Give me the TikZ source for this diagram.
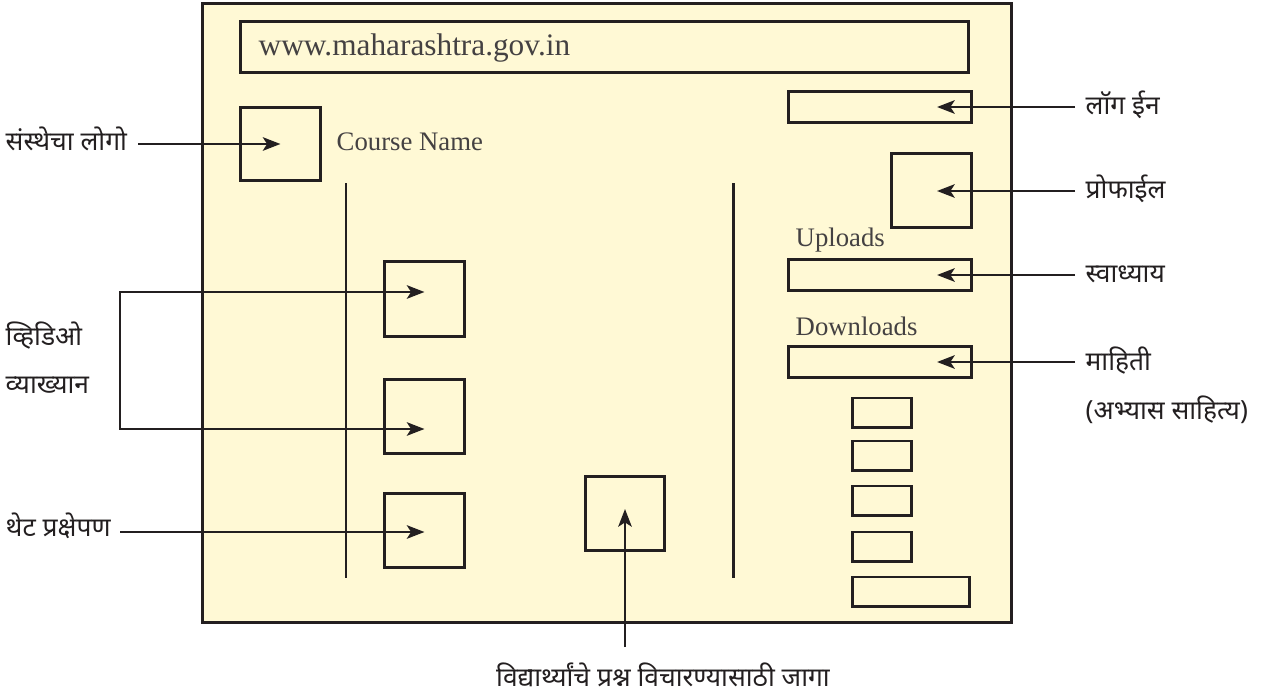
\documentclass[tikz,border=0pt]{standalone}
\usepackage{fontspec}
\setmainfont{Liberation Serif}
\newfontfamily\dev[Script=Devanagari]{Noto Sans}
\usetikzlibrary{arrows.meta}
\definecolor{scr}{RGB}{255,249,213}
\definecolor{ink}{RGB}{35,31,32}
\begin{document}
\begin{tikzpicture}[x=0.01cm,y=-0.01cm,
  bx/.style={draw=ink, line width=0.85pt, inner sep=0pt, outer sep=0pt, fill=scr},
  arr/.style={draw=ink, line width=0.85pt, -{Stealth[length=5pt,width=3.8pt,inset=1.2pt]}},
  ln/.style={draw=ink, line width=0.85pt},
  dlbl/.style={font=\dev\fontsize{7.5}{9}\selectfont, text=ink, inner sep=0pt, anchor=base west},
  elbl/.style={font=\fontsize{7.6}{9}\selectfont, text=ink!85, inner sep=0pt, anchor=base west}]
\useasboundingbox (0,0) rectangle (1263,694);
% screen frame
\node[bx, minimum width=8.08cm, minimum height=6.18cm] (screen) at (607,313) {};
% url bar
\node[bx, minimum width=7.27cm, minimum height=0.50cm] (url) at (604.5,47) {};
\node[elbl, font=\fontsize{8.9}{11}\selectfont] (urltxt) at (258,55) {www.maharashtra.gov.in};
% logo and course name
\node[bx, minimum width=0.79cm, minimum height=0.73cm] (logo) at (280.5,144) {};
\node[elbl] (course) at (336,150) {Course Name};
% vertical dividers
\coordinate (d1a) at (346,183); \coordinate (d1b) at (346,578);
\coordinate (d2a) at (733,183); \coordinate (d2b) at (733,578);
\draw[ln] (d1a) -- (d1b);
\draw[ln] (d2a) -- (d2b);
% video boxes
\node[bx, minimum width=0.79cm, minimum height=0.74cm] (vid1) at (424.5,299) {};
\node[bx, minimum width=0.79cm, minimum height=0.74cm] (vid2) at (424.5,416.5) {};
\node[bx, minimum width=0.79cm, minimum height=0.74cm] (vid3) at (424.5,530.5) {};
% question box
\node[bx, minimum width=0.79cm, minimum height=0.73cm] (ques) at (625,513.5) {};
% right column
\node[bx, minimum width=1.82cm, minimum height=0.30cm] (login) at (880,107) {};
\node[bx, minimum width=0.79cm, minimum height=0.73cm] (prof) at (931.5,190.5) {};
\node[elbl] (upl) at (795,246) {Uploads};
\node[bx, minimum width=1.82cm, minimum height=0.30cm] (swad) at (880,275) {};
\node[elbl] (dnl) at (795,335) {Downloads};
\node[bx, minimum width=1.82cm, minimum height=0.30cm] (mahiti) at (880,362) {};
\node[bx, minimum width=0.58cm, minimum height=0.29cm] (s1) at (882,412.5) {};
\node[bx, minimum width=0.58cm, minimum height=0.29cm] (s2) at (882,455.5) {};
\node[bx, minimum width=0.58cm, minimum height=0.29cm] (s3) at (882,500.5) {};
\node[bx, minimum width=0.58cm, minimum height=0.29cm] (s4) at (882,546.5) {};
\node[bx, minimum width=1.16cm, minimum height=0.29cm] (s5) at (911,591.5) {};
% labels
\node[dlbl] (llogo) at (5,150) {संस्थेचा लोगो};
\node[dlbl] (lvid1) at (5,345) {व्हिडिओ};
\node[dlbl] (lvid2) at (5,393) {व्याख्यान};
\node[dlbl] (llive) at (5,536) {थेट प्रक्षेपण};
\node[dlbl] (llogin) at (1085,114) {लॉग ईन};
\node[dlbl] (lprof) at (1085,198) {प्रोफाईल};
\node[dlbl] (lswad) at (1085,282) {स्वाध्याय};
\node[dlbl] (lmah) at (1085,370) {माहिती};
\node[dlbl] (lmah2) at (1085,419) {(अभ्यास साहित्य)};
\node[dlbl, anchor=base] (lques) at (663,686) {विद्यार्थ्यांचे प्रश्न विचारण्यासाठी जागा};
% connector start points
\coordinate (sLogo) at (138,144);
\coordinate (b1) at (120,292);
\coordinate (b2) at (120,429);
\coordinate (sLive) at (120,532);
\coordinate (sQues) at (625,647);
\coordinate (sLogin) at (1075,107);
\coordinate (sProf) at (1075,191);
\coordinate (sSwad) at (1075,275);
\coordinate (sMah) at (1075,362);
% connectors
\draw[arr] (sLogo) -- (logo.center);
\draw[ln, {Stealth[length=5pt,width=3.8pt,inset=1.2pt]}-{Stealth[length=5pt,width=3.8pt,inset=1.2pt]}]
  (vid1.center |- b1) -- (b1) -- (b2) -- (vid2.center |- b2);
\draw[arr] (sLive) -- (vid3.center |- sLive);
\draw[arr] (sQues) -- ([yshift=0.045cm]ques.center);
\draw[arr] (sLogin) -- ([xshift=-0.34cm]login.east);
\draw[arr] (sProf) -- ([xshift=-0.34cm]prof.east |- sProf);
\draw[arr] (sSwad) -- ([xshift=-0.34cm]swad.east);
\draw[arr] (sMah) -- ([xshift=-0.34cm]mahiti.east);
\end{tikzpicture}
\end{document}
